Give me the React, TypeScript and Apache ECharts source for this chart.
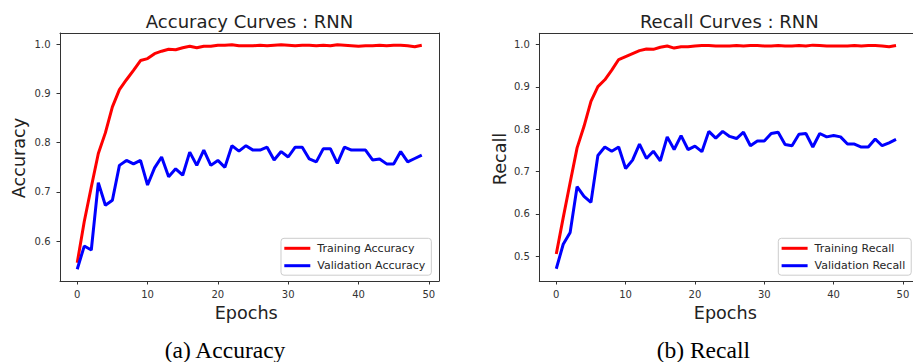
import React, { useEffect, useRef } from "react";
import * as echarts from "echarts";

const epochs = [0,1,2,3,4,5,6,7,8,9,10,11,12,13,14,15,16,17,18,19,20,21,22,23,24,25,26,27,28,29,30,31,32,33,34,35,36,37,38,39,40,41,42,43,44,45,46,47,48,49];

const trainAcc = [0.556,0.64,0.71,0.778,0.82,0.873,0.908,0.928,0.947,0.967,0.971,0.981,0.986,0.99,0.989,0.993,0.996,0.993,0.996,0.996,0.998,0.998,0.999,0.997,0.997,0.997,0.998,0.997,0.998,0.999,0.998,0.997,0.998,0.998,0.997,0.998,0.997,0.999,0.998,0.997,0.996,0.997,0.997,0.998,0.997,0.998,0.998,0.997,0.995,0.998];
const valAcc = [0.543,0.59,0.582,0.719,0.673,0.683,0.754,0.764,0.757,0.764,0.714,0.749,0.771,0.731,0.747,0.734,0.781,0.754,0.785,0.754,0.764,0.75,0.794,0.783,0.794,0.785,0.785,0.791,0.765,0.782,0.771,0.791,0.791,0.767,0.761,0.788,0.788,0.758,0.791,0.785,0.785,0.785,0.765,0.767,0.757,0.757,0.782,0.761,0.768,0.775];
const trainRec = [0.505,0.591,0.674,0.756,0.807,0.866,0.901,0.917,0.94,0.965,0.972,0.979,0.986,0.99,0.989,0.994,0.997,0.992,0.995,0.995,0.997,0.998,0.998,0.997,0.997,0.997,0.998,0.997,0.998,0.998,0.997,0.997,0.998,0.997,0.997,0.998,0.997,0.999,0.998,0.997,0.997,0.997,0.997,0.998,0.997,0.998,0.998,0.997,0.995,0.998];
const valRec = [0.47,0.528,0.556,0.664,0.641,0.627,0.738,0.758,0.748,0.758,0.707,0.727,0.765,0.731,0.748,0.725,0.782,0.752,0.785,0.752,0.76,0.747,0.795,0.779,0.795,0.783,0.778,0.793,0.761,0.772,0.772,0.79,0.793,0.764,0.761,0.788,0.79,0.758,0.79,0.782,0.785,0.782,0.765,0.765,0.758,0.758,0.777,0.761,0.768,0.776];

const xTicks = [0, 10, 20, 30, 40, 50];
const yTicksAcc = [0.6, 0.7, 0.8, 0.9, 1.0];
const yTicksRec = [0.5, 0.6, 0.7, 0.8, 0.9, 1.0];

const titles = ["Accuracy Curves : RNN", "Recall Curves : RNN"];
const yNames = ["Accuracy", "Recall"];
const xName = "Epochs";
const captions = ["(a) Accuracy", "(b) Recall"];
const seriesNames = [
  ["Training Accuracy", "Validation Accuracy"],
  ["Training Recall", "Validation Recall"],
];

const SANS = "DejaVu Sans";
const SERIF = "Liberation Serif";
const SPINE = "#333";

function pairs(vals: number[]) {
  return vals.map((v, i) => [epochs[i], v]);
}

export default function App() {
  const ref = useRef<HTMLDivElement>(null);
  useEffect(() => {
    if (!ref.current) return;
    const chart = echarts.init(ref.current, null, { renderer: "svg" });
    const grids = [
      { left: 60, top: 33, width: 379, height: 248 },
      { left: 539.3, top: 33.3, width: 380, height: 247.7 },
    ];
    const yRanges = [
      [0.519, 1.023, yTicksAcc],
      [0.441, 1.027, yTicksRec],
    ];
    const axisCommonLabel = { fontFamily: SANS, fontSize: 10, color: "#333" };
    const xAxes: any[] = [];
    const yAxes: any[] = [];
    grids.forEach((_, i) => {
      xAxes.push({
        type: "value",
        gridIndex: i,
        position: "bottom",
        min: -2.45,
        max: 51.45,
        axisLine: { show: true, onZero: false, lineStyle: { color: SPINE, width: 1 } },
        axisTick: { show: true, length: 3.5, customValues: xTicks, lineStyle: { color: SPINE, width: 1 } },
        axisLabel: { ...axisCommonLabel, margin: 8, customValues: xTicks, formatter: (v: number) => String(v) },
        splitLine: { show: false },
      });
      xAxes.push({
        type: "value",
        gridIndex: i,
        position: "top",
        min: -2.45,
        max: 51.45,
        axisLine: { show: true, onZero: false, lineStyle: { color: SPINE, width: 1 } },
        axisTick: { show: false },
        axisLabel: { show: false },
        splitLine: { show: false },
      });
      yAxes.push({
        type: "value",
        gridIndex: i,
        position: "left",
        min: yRanges[i][0] as number,
        max: yRanges[i][1] as number,
        axisLine: { show: true, onZero: false, lineStyle: { color: SPINE, width: 1 } },
        axisTick: { show: true, length: 3.5, customValues: yRanges[i][2] as number[], lineStyle: { color: SPINE, width: 1 } },
        axisLabel: { ...axisCommonLabel, margin: 9.5, customValues: yRanges[i][2] as number[], formatter: (v: number) => v.toFixed(1) },
        splitLine: { show: false },
      });
      yAxes.push({
        type: "value",
        gridIndex: i,
        position: "right",
        min: yRanges[i][0] as number,
        max: yRanges[i][1] as number,
        axisLine: { show: true, onZero: false, lineStyle: { color: SPINE, width: 1 } },
        axisTick: { show: false },
        axisLabel: { show: false },
        splitLine: { show: false },
      });
    });
    const dataSets = [
      [trainAcc, valAcc],
      [trainRec, valRec],
    ];
    const colors = ["#ff0000", "#0000ff"];
    const series: any[] = [];
    dataSets.forEach((ds, gi) => {
      ds.forEach((vals, si) => {
        series.push({
          type: "line",
          name: seriesNames[gi][si],
          xAxisIndex: gi * 2,
          yAxisIndex: gi * 2,
          data: pairs(vals),
          showSymbol: false,
          symbol: "none",
          lineStyle: { color: colors[si], width: 3 },
          itemStyle: { color: colors[si] },
          z: 3,
        });
      });
    });
    const legendCommon = {
      orient: "vertical",
      top: 238.3,
      icon: "rect",
      itemWidth: 26,
      itemHeight: 3,
      itemGap: 4.4,
      padding: [3.5, 6, 3, 3.3],
      backgroundColor: "rgba(255,255,255,0.8)",
      borderColor: "#cccccc",
      borderWidth: 1,
      borderRadius: 3,
      textStyle: { fontFamily: SANS, fontSize: 11, color: "#262626", lineHeight: 13, padding: [0, 0, 0, 2] },
    };
    const legends = [
      { ...legendCommon, left: 281, data: seriesNames[0] },
      { ...legendCommon, left: 778.3, data: seriesNames[1] },
    ];
    const graphic: any[] = [];
    const titleX = [249.5, 729.3];
    const epochX = [246.2, 725.3];
    const capX = [225, 703.3];
    const yNameX = [18.9, 500];
    const yNameY = [158, 159];
    for (let i = 0; i < 2; i++) {
      graphic.push({
        type: "text", x: titleX[i], y: 21, z: 10,
        style: { text: titles[i], fontFamily: SANS, fontSize: 18, fill: "#222", align: "center", verticalAlign: "middle" },
      });
      graphic.push({
        type: "text", x: epochX[i], y: 313.1, z: 10,
        style: { text: xName, fontFamily: SANS, fontSize: 17.6, fill: "#222", align: "center", verticalAlign: "middle" },
      });
      graphic.push({
        type: "text", x: capX[i], y: 350.4, z: 10,
        style: { text: captions[i], fontFamily: SERIF, fontSize: 23.5, fill: "#000", align: "center", verticalAlign: "middle" },
      });
      graphic.push({
        type: "text", x: yNameX[i], y: yNameY[i], rotation: Math.PI / 2, z: 10,
        style: { text: yNames[i], fontFamily: SANS, fontSize: 17.6, fill: "#222", align: "center", verticalAlign: "middle" },
      });
    }
    chart.setOption({
      animation: false,
      backgroundColor: "#ffffff",
      grid: grids.map((g) => ({ ...g, containLabel: false })),
      xAxis: xAxes,
      yAxis: yAxes,
      legend: legends,
      series,
      graphic,
    });
    return () => chart.dispose();
  }, []);
  return (
    <div
      ref={ref}
      style={{ position: "absolute", left: 0, top: 0, width: 913, height: 362 }}
    />
  );
}
